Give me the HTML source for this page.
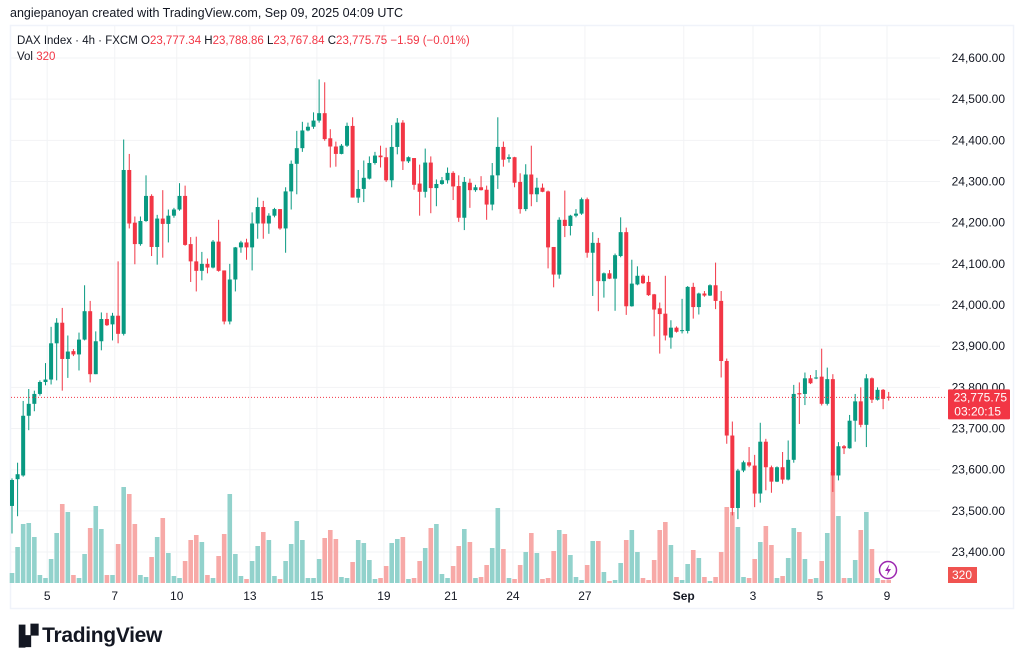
<!DOCTYPE html>
<html><head><meta charset="utf-8"><style>
body{margin:0;background:#fff;width:1024px;height:665px;overflow:hidden;font-family:"Liberation Sans",sans-serif;}
#hdr{position:absolute;left:10px;top:6px;font-size:12.5px;color:#131722;}
#logo{position:absolute;left:12px;top:624px;font-size:21px;font-weight:bold;color:#131722;letter-spacing:-0.3px;}
</style></head><body>
<div id="hdr">angiepanoyan created with TradingView.com, Sep 09, 2025 04:09 UTC</div>
<svg id="chart" width="1024" height="665" style="position:absolute;left:0;top:0" xmlns="http://www.w3.org/2000/svg"></svg>
<div id="logo"><span style="font-size:19px;letter-spacing:-2px;margin-right:6px">▐▞</span>TradingView</div>
<script>
const opens=[23512,23577,23586,23731,23760,23784,23813,23819,23907,23957,23869,23888,23880,23916,23985,23832,23912,23966,23953,23974,23930,24328,24200,24148,24204,24265,24141,24210,24197,24217,24232,24265,24148,24106,24083,24100,24091,24154,24084,23960,24062,24140,24152,24140,24198,24238,24198,24217,24233,24186,24276,24343,24381,24424,24433,24448,24466,24405,24385,24367,24387,24435,24261,24282,24307,24345,24363,24359,24303,24384,24443,24349,24357,24295,24275,24346,24284,24294,24303,24321,24289,24212,24297,24279,24286,24280,24244,24315,24384,24355,24359,24299,24233,24317,24269,24285,24276,24141,24074,24207,24192,24217,24222,24257,24127,24151,24058,24077,24064,24119,24177,23997,24050,24071,24056,24026,23992,23979,23921,23945,23937,23937,24044,23995,24028,24023,24048,24010,23864,23683,23507,23598,23618,23610,23542,23668,23606,23571,23606,23576,23624,23786,23784,23822,23822,23826,23760,23820,23586,23657,23652,23719,23766,23709,23822,23770,23794,23777.34];
const highs=[23579,23617,23767,23796,23792,23817,23859,23947,23968,23993,23926,23893,23933,24048,24010,23936,23982,23981,23981,24106,24402,24367,24215,24215,24315,24269,24219,24279,24232,24236,24296,24290,24165,24166,24129,24113,24158,24207,24084,24100,24141,24156,24161,24225,24261,24253,24223,24236,24233,24286,24351,24423,24445,24443,24468,24548,24541,24427,24397,24391,24443,24456,24328,24351,24361,24372,24387,24382,24437,24454,24449,24361,24357,24341,24380,24361,24305,24311,24334,24325,24315,24311,24307,24292,24313,24290,24345,24456,24397,24366,24360,24320,24342,24387,24309,24295,24278,24141,24213,24278,24219,24233,24261,24261,24177,24163,24079,24085,24125,24213,24188,24110,24094,24074,24071,24027,24006,24071,23963,23948,24015,24046,24054,24030,24034,24050,24103,24034,23870,23717,23602,23622,23655,23636,23714,23675,23610,23608,23643,23671,23806,23812,23836,23830,23842,23894,23848,23832,23667,23660,23733,23784,23800,23832,23824,23800,23796,23788.86];
const lows=[23445,23487,23583,23696,23742,23780,23805,23807,23817,23792,23823,23876,23841,23914,23812,23832,23890,23949,23914,23907,23926,24186,24099,24144,24202,24119,24098,24115,24152,24212,24229,24144,24056,24033,24060,24077,24089,24081,23953,23953,24033,24127,24110,24084,24161,24161,24173,24213,24183,24127,24232,24269,24372,24422,24428,24443,24399,24334,24336,24366,24384,24261,24248,24250,24305,24341,24334,24299,24286,24366,24328,24345,24280,24217,24261,24223,24240,24292,24295,24255,24202,24182,24236,24275,24278,24207,24230,24282,24336,24346,24286,24222,24228,24240,24250,24274,24089,24043,24064,24165,24169,24213,24219,24115,24022,23985,24018,24063,23986,24116,23976,23996,24048,24051,24022,23924,23882,23914,23894,23933,23931,23931,23967,23977,24020,24022,23990,23824,23663,23489,23480,23594,23606,23509,23520,23550,23544,23570,23566,23574,23617,23711,23757,23808,23820,23756,23756,23546,23574,23638,23651,23668,23703,23655,23762,23768,23747,23767.84];
const closes=[23575,23589,23731,23760,23784,23813,23819,23907,23957,23869,23887,23880,23916,23985,23832,23912,23966,23951,23974,23930,24328,24198,24148,24204,24265,24141,24210,24197,24217,24232,24265,24146,24106,24083,24100,24091,24154,24083,23960,24062,24140,24152,24140,24198,24238,24198,24217,24233,24186,24276,24343,24381,24424,24433,24448,24466,24403,24385,24367,24387,24435,24261,24282,24309,24345,24363,24359,24303,24384,24443,24349,24359,24292,24275,24346,24284,24294,24303,24321,24288,24212,24299,24279,24286,24279,24244,24315,24384,24353,24359,24297,24233,24317,24269,24285,24275,24140,24074,24207,24192,24217,24222,24257,24127,24151,24058,24077,24064,24121,24177,23997,24052,24071,24053,24024,23989,23978,23926,23945,23935,23939,24044,23995,24028,24023,24048,24010,23864,23683,23507,23598,23618,23610,23542,23668,23606,23571,23606,23576,23624,23784,23783,23822,23810,23824,23760,23820,23586,23657,23652,23719,23766,23709,23822,23770,23794,23772,23775.75];
const volumes=[1000,3600,5900,6000,4600,800,500,2400,5000,7900,7100,800,500,2900,5500,7700,5400,800,800,3900,9600,8900,5900,800,600,2600,4600,6500,3000,700,500,2200,4300,4800,4100,800,500,2700,4900,8900,2900,700,400,2200,3700,5100,4300,700,400,2200,3900,6200,4300,500,500,2400,4500,5300,4400,600,500,2100,4300,4000,2300,400,500,1700,4000,4400,4600,400,500,2200,3500,5500,5900,900,500,1700,3700,5400,4100,500,600,1800,3500,7500,3400,500,400,1800,3100,5000,3000,400,500,3200,5300,4900,2800,600,300,1800,4200,4200,1100,200,300,2000,4300,5300,3100,500,300,2300,5300,6100,3800,600,300,1900,3300,2500,600,200,600,3100,7600,7100,5600,600,500,2400,4100,5700,3800,500,700,2500,5500,5100,2400,400,500,2200,5000,11100,6700,500,500,2300,5300,7100,3400,500,300,320];
const priceTicks=[24600,24500,24400,24300,24200,24100,24000,23900,23800,23700,23600,23500,23400];
const dateLabels=["5","7","10","13","15","19","21","24","27","Sep","3","5","9"];
const dateIdx=[6.3,18.4,29.5,42.6,54.6,66.6,78.6,89.7,102.6,120.3,132.7,144.7,156.7];

const svg=document.getElementById('chart');
const NS='http://www.w3.org/2000/svg';
const yP=p=>58+(24600-p)*0.4117;
const xI=i=>12+i*5.584;
const yV=v=>583-v*0.01;
function mk(tag,attrs,parent){const e=document.createElementNS(NS,tag);for(const k in attrs)e.setAttribute(k,attrs[k]);(parent||svg).appendChild(e);return e;}
const fr=mk('rect',{x:10.5,y:25.5,width:1003,height:583,fill:'none',stroke:'#f0f3fa','stroke-width':1.5});


priceTicks.forEach(p=>{
  const l=mk('line',{x1:11,x2:940,y1:yP(p),y2:yP(p),stroke:'#f2f3f5','stroke-width':1});
  
  
  const t=mk('text',{x:1005,y:yP(p)+4,'text-anchor':'end','font-size':12,fill:'#131722','font-family':'Liberation Sans, sans-serif'});
  t.textContent=p.toLocaleString('en-US',{minimumFractionDigits:2});
  
  
});
dateLabels.forEach((d,k)=>{
  const x=xI(dateIdx[k]);
  const l=mk('line',{x1:x,x2:x,y1:26,y2:583,stroke:'#f2f3f5','stroke-width':1});
  
  
  const t=mk('text',{x:x,y:600,'text-anchor':'middle','font-size':12,fill:'#131722','font-family':'Liberation Sans, sans-serif','font-weight':d==='Sep'?'bold':'normal'});
  t.textContent=d;
  
  
});
volumes.forEach((v,i)=>{
  const up=closes[i]>=opens[i];
  const r=mk('rect',{x:xI(i)-2.3,y:yV(v),width:4.6,height:583-yV(v),fill:up?'#92d2cc':'#f7a9a7'});
  
  
});
opens.forEach((o,i)=>{
  const c=closes[i],up=c>=o,col=up?'#089981':'#f23645';
  const g=mk('g',{});
  
  
  mk('line',{x1:xI(i),x2:xI(i),y1:yP(highs[i]),y2:yP(lows[i]),stroke:col,'stroke-width':1},g);
  const top=yP(Math.max(o,c)),bot=yP(Math.min(o,c));
  mk('rect',{x:xI(i)-2,y:top,width:4,height:Math.max(1,bot-top),fill:col},g);
});
const cp=closes[closes.length-1];
const pl=mk('line',{x1:11,x2:945,y1:yP(cp),y2:yP(cp),stroke:'#f23645','stroke-width':1,'stroke-dasharray':'1 2'});


const pb=mk('rect',{x:948,y:yP(cp)-8,width:62,height:30,fill:'#f23645',rx:1});


const pt=mk('text',{x:1007,y:yP(cp)+4,'text-anchor':'end','font-size':12,fill:'#fff','font-family':'Liberation Sans, sans-serif'});
pt.textContent=cp.toLocaleString('en-US',{minimumFractionDigits:2});


const ct=mk('text',{x:1001,y:yP(cp)+18,'text-anchor':'end','font-size':12,fill:'#fff','font-family':'Liberation Sans, sans-serif'});
ct.textContent='03:20:15';


const vb=mk('rect',{x:948,y:567,width:29,height:16,fill:'#f05350'});


const vt=mk('text',{x:962,y:579,'text-anchor':'middle','font-size':12,fill:'#fff','font-family':'Liberation Sans, sans-serif'});
vt.textContent=String(volumes[volumes.length-1]);


const ic=mk('g',{});


mk('circle',{cx:888,cy:570,r:8.5,fill:'#fff',stroke:'#9c27b0','stroke-width':1.5},ic);
mk('path',{d:'M889.5 564 L885 571 L888 571 L886.5 576 L891 569 L888 569 Z',fill:'#9c27b0'},ic);
const lg=mk('text',{x:17,y:44,'font-size':11.5,fill:'#131722','font-family':'Liberation Sans, sans-serif',style:'white-space:pre'});


lg.innerHTML='DAX Index · 4h · FXCM O<tspan fill="#f23645">23,777.34</tspan> H<tspan fill="#f23645">23,788.86</tspan> L<tspan fill="#f23645">23,767.84</tspan> C<tspan fill="#f23645">23,775.75</tspan> <tspan fill="#f23645">−1.59 (−0.01%)</tspan>';
const vl=mk('text',{x:17,y:60,'font-size':11.5,fill:'#131722','font-family':'Liberation Sans, sans-serif',style:'white-space:pre'});


vl.innerHTML='Vol <tspan fill="#f23645">320</tspan>';
</script>
</body></html>
